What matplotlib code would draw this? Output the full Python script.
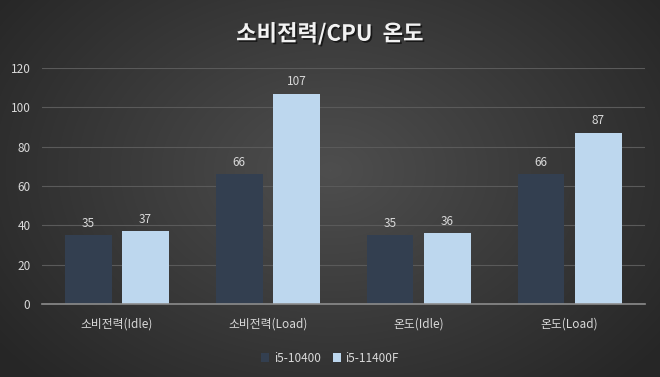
import numpy as np
import matplotlib.pyplot as plt
from matplotlib.colors import LinearSegmentedColormap
import matplotlib.patheffects as pe

plt.rcParams['font.family'] = ['Noto Sans CJK KR', 'DejaVu Sans']

categories = ['소비전력(Idle)', '소비전력(Load)', '온도(Idle)', '온도(Load)']
series_names = ['i5-10400', 'i5-11400F']
i5_10400 = [35, 66, 35, 66]
i5_11400f = [37, 107, 36, 87]
yticks = [0, 20, 40, 60, 80, 100, 120]

text_col = '#d9d9d9'
dark_col = '#333f50'
light_col = '#bdd7ee'

fig = plt.figure(figsize=(6.6, 3.77), dpi=100)

# radial gradient background
bg = fig.add_axes([0, 0, 1, 1], zorder=-10)
yy, xx = np.mgrid[0:377, 0:660]
r = np.sqrt(((xx - 330) / 420.0) ** 2 + ((yy - 170) / 300.0) ** 2)
cmap = LinearSegmentedColormap.from_list('bg', ['#4e4e4e', '#3a3a3a', '#262626'])
bg.imshow(r, cmap=cmap, vmin=0, vmax=1.0, aspect='auto', extent=[0, 1, 0, 1])
bg.axis('off')

ax = fig.add_axes([41.5 / 660, 73 / 377, 603.5 / 660, 236 / 377])
ax.patch.set_alpha(0)

x = np.arange(len(categories))
w = 0.31
off = 0.19
b1 = ax.bar(x - off, i5_10400, w, color=dark_col, label=series_names[0], zorder=3)
b2 = ax.bar(x + off, i5_11400f, w, color=light_col, label=series_names[1], zorder=3)
for bars in (b1, b2):
    ax.bar_label(bars, padding=4, color=text_col, fontsize=8.5)

ax.set_xlim(-0.5, len(categories) - 0.5)
ax.set_ylim(0, 120)
ax.set_yticks(yticks)
ax.set_xticks(x)
ax.set_xticklabels(categories, fontsize=9)
ax.tick_params(axis='both', length=0, colors=text_col, labelsize=8.5)
ax.tick_params(axis='x', pad=10)
ax.tick_params(axis='y', pad=8)
ax.yaxis.grid(True, color='#5a5a5a', linewidth=0.8, zorder=0)
for s in ['top', 'right', 'left']:
    ax.spines[s].set_visible(False)
ax.spines['bottom'].set_color('#8c8c8c')
ax.spines['bottom'].set_linewidth(1.2)
ax.spines['bottom'].set_zorder(4)

fig.text(0.5, 0.91, '소비전력/CPU  온도', ha='center', va='center',
         fontsize=16, fontweight='bold', color='#f2f2f2',
         path_effects=[pe.withSimplePatchShadow(offset=(1.2, -1.2), shadow_rgbFace='black', alpha=0.6)])

leg = fig.legend(loc='center', bbox_to_anchor=(0.5, 0.05), ncol=2, frameon=False,
                 fontsize=8.5, handlelength=0.7, handleheight=0.7, handletextpad=0.4,
                 columnspacing=1.0)
for t in leg.get_texts():
    t.set_color(text_col)

fig.savefig('out.png', dpi=100)
